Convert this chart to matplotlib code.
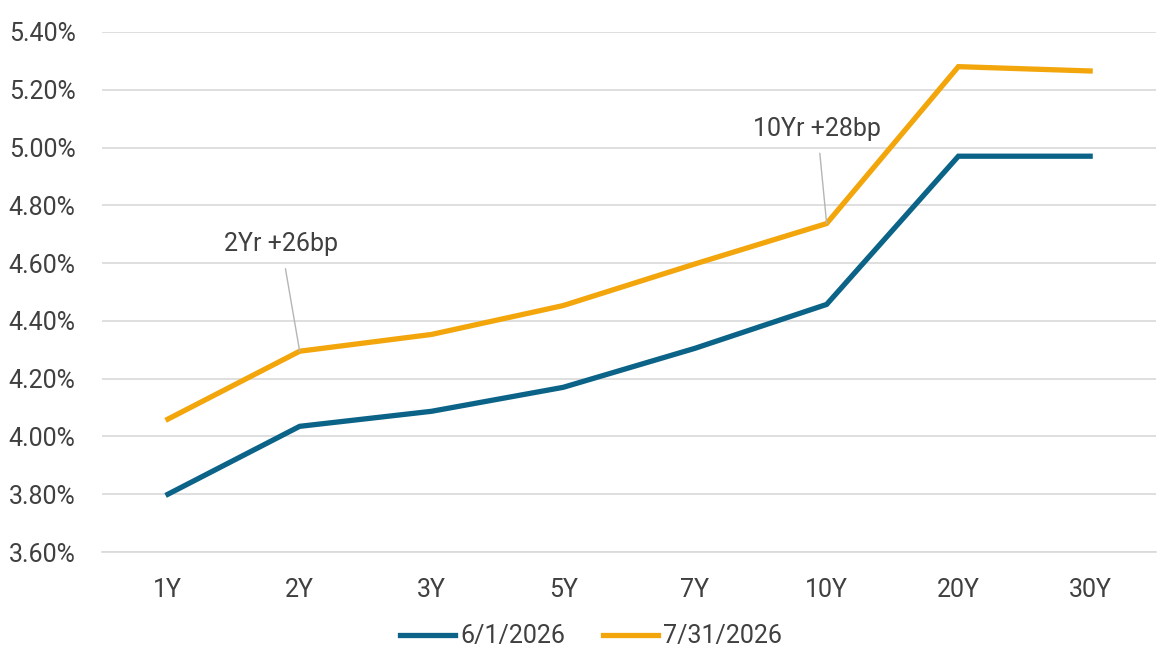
import matplotlib.pyplot as plt
from matplotlib.ticker import FuncFormatter

# Treasury yield curve, two dates
tenors = ['1Y', '2Y', '3Y', '5Y', '7Y', '10Y', '20Y', '30Y']
yields_jun = [3.80, 4.035, 4.087, 4.17, 4.305, 4.457, 4.97, 4.97]
yields_jul = [4.06, 4.295, 4.353, 4.453, 4.597, 4.737, 5.28, 5.265]
labels = ['6/1/2026', '7/31/2026']

blue = '#0b6388'
orange = '#f2a60c'
text_col = '#404040'

plt.rcParams['font.family'] = ['Roboto', 'DejaVu Sans']

fig = plt.figure(figsize=(11.61, 6.46), dpi=100)
ax = fig.add_axes([0.0879, 0.1455, 0.9078, 0.805])

x = range(len(tenors))
ax.plot(x, yields_jun, color=blue, lw=3.8, label=labels[0], solid_joinstyle='miter')
ax.plot(x, yields_jul, color=orange, lw=3.8, label=labels[1], solid_joinstyle='miter')

ax.set_xlim(-0.5, len(tenors) - 0.5)
ax.set_ylim(3.6, 5.4)
ax.set_yticks([3.6 + 0.2 * i for i in range(10)])
ax.yaxis.set_major_formatter(FuncFormatter(lambda v, p: f'{v:.2f}%'))
ax.set_xticks(list(x))
ax.set_xticklabels(tenors)

ax.grid(axis='y', color='#d9d9d9', lw=1.2)
ax.set_axisbelow(True)
for s in ['top', 'right', 'left']:
    ax.spines[s].set_visible(False)
ax.spines['bottom'].set_color('#d9d9d9')
ax.spines['bottom'].set_linewidth(1.2)
ax.tick_params(length=0, labelsize=18, colors=text_col)
ax.tick_params(axis='y', pad=19)
ax.tick_params(axis='x', pad=19)

# spread callouts
ax.annotate('2Yr +26bp', xy=(1, yields_jul[1]), xytext=(0.86, 4.665),
            ha='center', va='center', fontsize=18, color=text_col,
            arrowprops=dict(arrowstyle='-', color='#b5b5b5', lw=1,
                            shrinkA=7, shrinkB=0))
ax.annotate('10Yr +28bp', xy=(5, yields_jul[5]), xytext=(4.93, 5.065),
            ha='center', va='center', fontsize=18, color=text_col,
            arrowprops=dict(arrowstyle='-', color='#b5b5b5', lw=1,
                            shrinkA=7, shrinkB=0))

fig.legend(loc='center', bbox_to_anchor=(0.509, 0.015), ncol=2, frameon=False,
           fontsize=18, labelcolor=text_col, handlelength=2.2,
           handletextpad=0.2, columnspacing=1.5)

fig.savefig('out.png', dpi=100)
